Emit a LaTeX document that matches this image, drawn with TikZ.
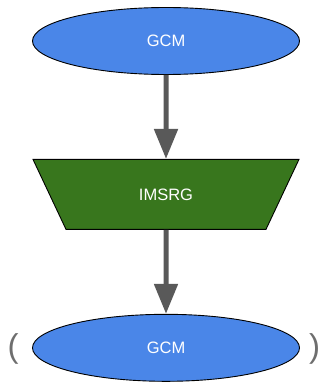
\documentclass[tikz,border=0pt]{standalone}
\usepackage{fontspec}
\setmainfont{Liberation Sans}
\usetikzlibrary{arrows.meta,positioning,shapes.geometric}
\definecolor{gcmblue}{HTML}{4A86E8}
\definecolor{imsrggreen}{HTML}{38761D}
\definecolor{arrowgray}{HTML}{595959}
\definecolor{parengray}{HTML}{6E6E6E}
\begin{document}
\begin{tikzpicture}[x=1pt,y=-1pt,node distance=84pt,
                    flow/.style={-{Triangle[length=30pt,width=23pt]},line width=5pt,draw=arrowgray}]
  \tikzstyle{method}=[ellipse,draw=black,line width=0.9pt,fill=gcmblue,text=white,
                      minimum width=267pt,minimum height=67pt,inner sep=0pt,font=\fontsize{16.5}{19}\selectfont]
  \tikzstyle{solver}=[trapezium,shape border rotate=180,trapezium stretches=true,
                      trapezium angle=52.6,draw=black,line width=0.9pt,fill=imsrggreen,text=white,
                      minimum width=268pt,minimum height=70pt,inner sep=0pt,font=\fontsize{16.5}{19}\selectfont]
  \tikzstyle{paren}=[text=parengray,inner sep=0pt,font=\fontsize{33}{36}\selectfont]

  \useasboundingbox (0,0) rectangle (320,382);

  \node[method]			(gcmA)  at (166,41)		{GCM};
  \node[solver]			(imsrg) [below=of gcmA]	{IMSRG};
  \node[method]			(gcmB)  [below=of imsrg]	{GCM};
  \node[paren]			(lp)    at (13,349)	{(};
  \node[paren]			(rp)    at (314.5,349)	{)};

  \draw[flow] (gcmA) -- (imsrg);
  \draw[flow] (imsrg) -- (gcmB);

\end{tikzpicture}
\end{document}
